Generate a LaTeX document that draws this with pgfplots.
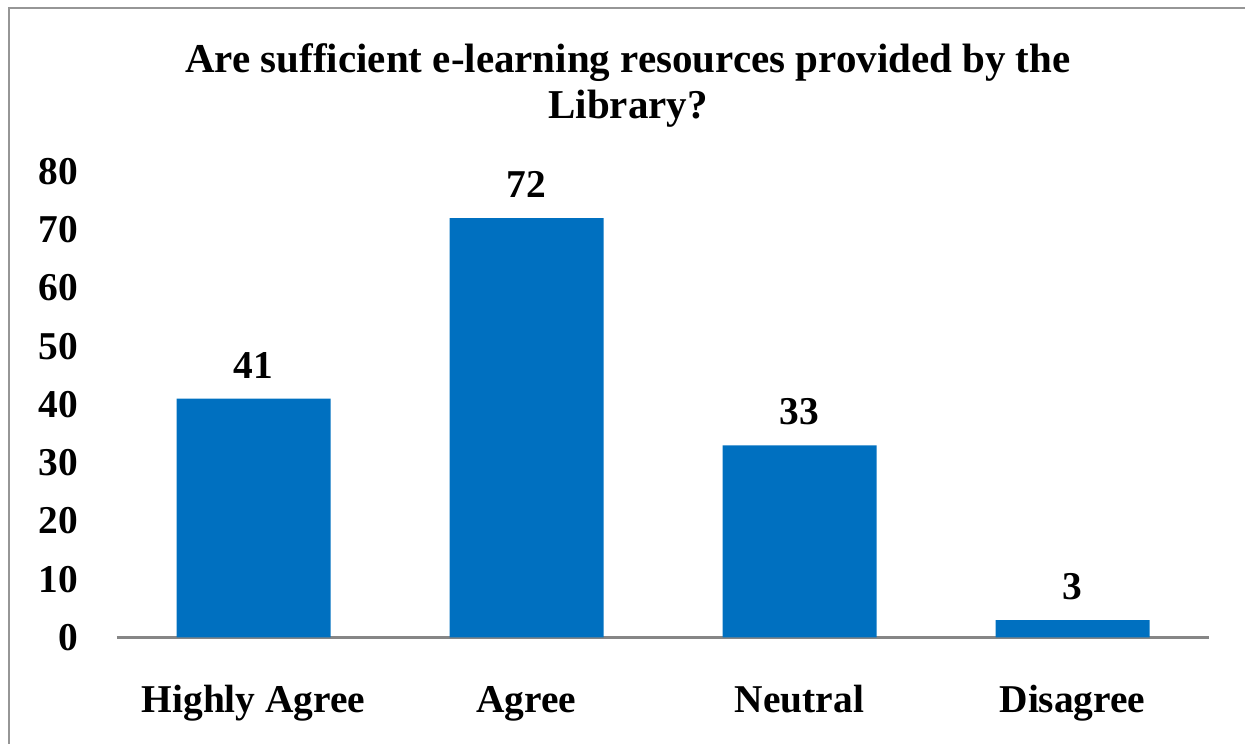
\documentclass[border=0pt]{standalone}
\usepackage{fontspec}
\setmainfont{Liberation Serif}
\usepackage{pgfplots}
\pgfplotsset{compat=1.18}
\definecolor{barBlue}{RGB}{0,112,192}
\definecolor{axisGray}{RGB}{134,134,134}
\definecolor{frameGray}{RGB}{150,150,150}

\begin{document}
\begin{tikzpicture}
  \useasboundingbox (0,0) rectangle (622.5bp,372bp);
  % outer chart frame (cropped at right and bottom)
  \draw[frameGray, line width=1.2bp] (622.5bp,368bp) -- (4.5bp,368bp) -- (4.5bp,0);
  % title
  \node[anchor=base, font=\fontsize{20.5bp}{23bp}\selectfont\bfseries]
    at (314bp,335.5bp) {Are sufficient e-learning resources provided by the};
  \node[anchor=base, font=\fontsize{20.5bp}{23bp}\selectfont\bfseries]
    at (314bp,312.5bp) {Library?};
  \begin{axis}[
      at={(58.5bp,53.25bp)}, anchor=south west,
      scale only axis,
      width=546bp, height=233bp,
      xmin=-0.5, xmax=3.5,
      ymin=0, ymax=80,
      ybar, bar width=77bp,
      axis x line=bottom, axis y line=left,
      x axis line style={draw=axisGray, line width=1.5bp, -},
      y axis line style={draw=none},
      tick style={draw=none},
      xtick={0,1,2,3},
      xticklabels={Highly Agree, Agree, Neutral, Disagree},
      ytick={0,10,...,80},
      /pgf/number format/assume math mode=true,
      ticklabel style={font=\fontsize{19.7bp}{23bp}\selectfont\bfseries},
      xticklabel style={anchor=base, inner sep=0pt, yshift=-35.25bp},
      yticklabel style={anchor=east, inner sep=0pt, xshift=-17bp},
      nodes near coords,
      every node near coord/.append style={
        font=\fontsize{19.7bp}{23bp}\selectfont\bfseries,
        anchor=base, inner sep=0pt, yshift=10.25bp, black},
    ]
    \addplot[fill=barBlue, draw=none] coordinates {
      (0,41) (1,72) (2,33) (3,3)
    };
  \end{axis}
\end{tikzpicture}
\end{document}
